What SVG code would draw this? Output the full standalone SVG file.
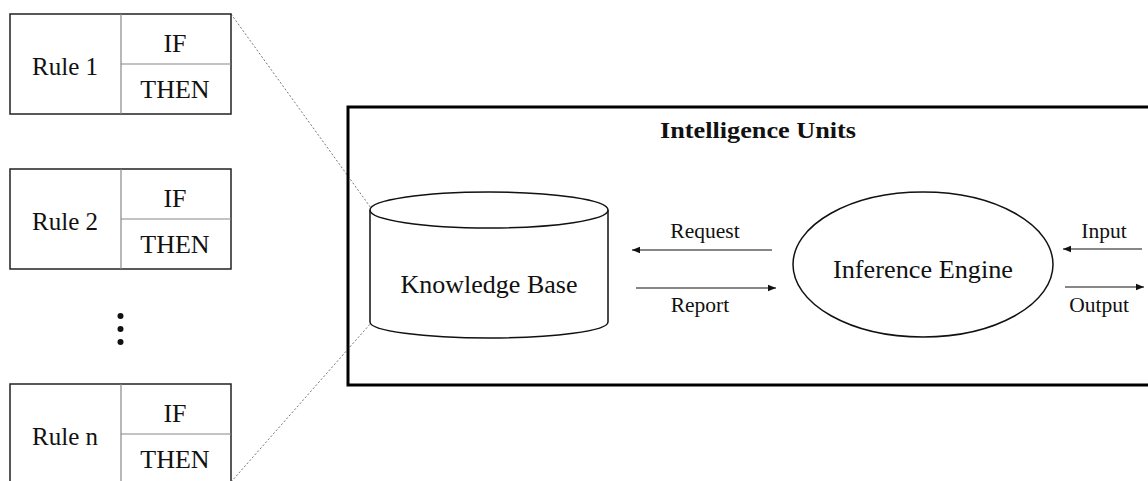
<svg xmlns="http://www.w3.org/2000/svg" width="1148" height="481" viewBox="0 0 1148 481">
<defs>
<style>
.t{font-family:"Liberation Serif","Times New Roman",serif;fill:#111;text-anchor:middle}
.outer{fill:#fff;stroke:#222;stroke-width:1.5}
.inner{stroke:#888;stroke-width:1.2;fill:none}
.shape{fill:#fff;stroke:#111;stroke-width:1.5}
.conn{stroke:#111;stroke-width:1.2;fill:none}
.dash{stroke:#777;stroke-width:1;stroke-dasharray:2,2;fill:none}
</style>
<marker id="ah" viewBox="0 0 10 10" refX="10" refY="5" markerWidth="9" markerHeight="8" markerUnits="userSpaceOnUse" orient="auto">
<path d="M0,1 L10,5 L0,9 Z" fill="#111"/>
</marker>
</defs>
<rect width="1148" height="481" fill="#fff"/>
<g id="connectors">
<line class="dash" x1="231" y1="14" x2="371" y2="208"/>
<line class="dash" x1="231" y1="482" x2="371" y2="323"/>
<line class="conn" x1="772" y1="250" x2="632" y2="250" marker-end="url(#ah)"/>
<line class="conn" x1="636" y1="288" x2="776" y2="288" marker-end="url(#ah)"/>
<line class="conn" x1="1142" y1="249" x2="1063" y2="249" marker-end="url(#ah)"/>
<line class="conn" x1="1065" y1="287" x2="1144" y2="287" marker-end="url(#ah)"/>
</g>
<g id="rule1">
<rect class="outer" x="10" y="14" width="221" height="100"/>
<line class="inner" x1="121" y1="14" x2="121" y2="114"/>
<line class="inner" x1="121" y1="64" x2="231" y2="64"/>
<text class="t" x="65" y="75" font-size="25">Rule 1</text>
<text class="t" x="175" y="52" font-size="26">IF</text>
<text class="t" x="175" y="98" font-size="26">THEN</text>
</g>
<g id="rule2">
<rect class="outer" x="10" y="169" width="221" height="100"/>
<line class="inner" x1="121" y1="169" x2="121" y2="269"/>
<line class="inner" x1="121" y1="219" x2="231" y2="219"/>
<text class="t" x="65" y="230" font-size="25">Rule 2</text>
<text class="t" x="175" y="207" font-size="26">IF</text>
<text class="t" x="175" y="253" font-size="26">THEN</text>
</g>
<g id="ellipsis">
<circle cx="120.5" cy="316" r="3" fill="#111"/>
<circle cx="120.5" cy="329" r="3" fill="#111"/>
<circle cx="120.5" cy="342" r="3" fill="#111"/>
</g>
<g id="rulen">
<rect class="outer" x="10" y="384" width="221" height="100"/>
<line class="inner" x1="121" y1="384" x2="121" y2="484"/>
<line class="inner" x1="121" y1="434" x2="231" y2="434"/>
<text class="t" x="65" y="445" font-size="25">Rule n</text>
<text class="t" x="175" y="422" font-size="26">IF</text>
<text class="t" x="175" y="468" font-size="26">THEN</text>
</g>
<g id="intelligence-units">
<rect x="348" y="107" width="820" height="278" fill="none" stroke="#000" stroke-width="3"/>
<text class="t" x="758" y="138" font-size="24" font-weight="bold" textLength="196" lengthAdjust="spacingAndGlyphs">Intelligence Units</text>
</g>
<g id="knowledge-base">
<path class="shape" d="M370,210 L370,322 A119,16 0 0 0 608,322 L608,210"/>
<ellipse class="shape" cx="489" cy="210" rx="119" ry="18"/>
<text class="t" x="489" y="293" font-size="26">Knowledge Base</text>
</g>
<g id="inference-engine">
<ellipse class="shape" cx="923" cy="264.5" rx="130" ry="72.5"/>
<text class="t" x="923" y="278" font-size="25" textLength="180" lengthAdjust="spacingAndGlyphs">Inference Engine</text>
</g>
<g id="labels">
<text class="t" x="705" y="238" font-size="21.5">Request</text>
<text class="t" x="700" y="312" font-size="21.5">Report</text>
<text class="t" x="1104" y="238" font-size="21.5">Input</text>
<text class="t" x="1099" y="312" font-size="21.5">Output</text>
</g>
</svg>
